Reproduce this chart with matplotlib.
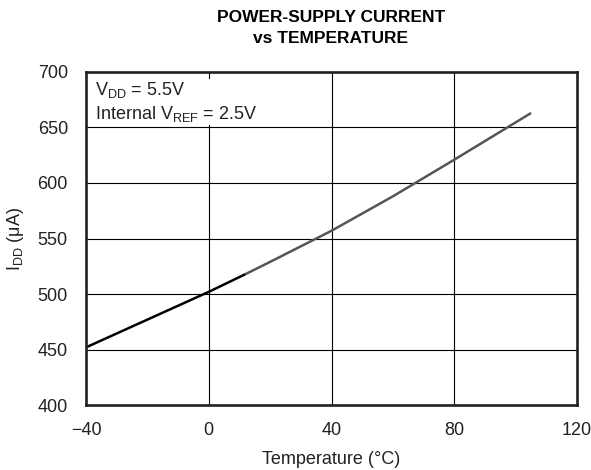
import matplotlib.pyplot as plt

plt.rcParams['font.family'] = ['Liberation Sans', 'DejaVu Sans']

# values
temp = [-40, -20, 0, 12, 20, 40, 60, 80, 105]
idd = [452, 477, 502, 518, 529, 557, 588, 621, 663]
split = 3  # line turns grey past this point in the reference

xticks = [-40, 0, 40, 80, 120]
xticklabels = ['\u221240', '0', '40', '80', '120']
yticks = [400, 450, 500, 550, 600, 650, 700]

fig = plt.figure(figsize=(5.91, 4.70), dpi=100)
ax = fig.add_axes([0.1455, 0.138, 0.831, 0.709])

ax.plot(temp[:split + 1], idd[:split + 1], color='black', lw=1.8, solid_capstyle='butt')
ax.plot(temp[split:], idd[split:], color='#555555', lw=1.8, solid_capstyle='butt')

ax.set_xlim(-40, 120)
ax.set_ylim(400, 700)
ax.set_xticks(xticks)
ax.set_xticklabels(xticklabels)
ax.set_yticks(yticks)
ax.grid(True, color='black', lw=0.8)
ax.tick_params(length=0, labelsize=13, colors='#222222')
ax.tick_params(axis='y', pad=13)
ax.tick_params(axis='x', pad=12)
for s in ax.spines.values():
    s.set_linewidth(1.9)
    s.set_color('#222222')

ax.set_xlabel('Temperature (\u00b0C)', fontsize=13, labelpad=9, color='#222222')
ax.set_ylabel('I$_{\\mathregular{DD}}$ (\u03bcA)', fontsize=13, labelpad=8, color='#222222')

ax.text(0.018, 0.975, 'V$_{\\mathregular{DD}}$ = 5.5V\nInternal V$_{\\mathregular{REF}}$ = 2.5V',
        transform=ax.transAxes, ha='left', va='top', fontsize=13, linespacing=1.25,
        color='#222222', bbox=dict(facecolor='white', edgecolor='none', pad=1))

fig.text(0.56, 0.978, 'POWER-SUPPLY CURRENT\nvs TEMPERATURE', ha='center', va='top',
         fontsize=12.5, fontweight='bold', linespacing=1.5)

fig.savefig('out.png', dpi=100)
